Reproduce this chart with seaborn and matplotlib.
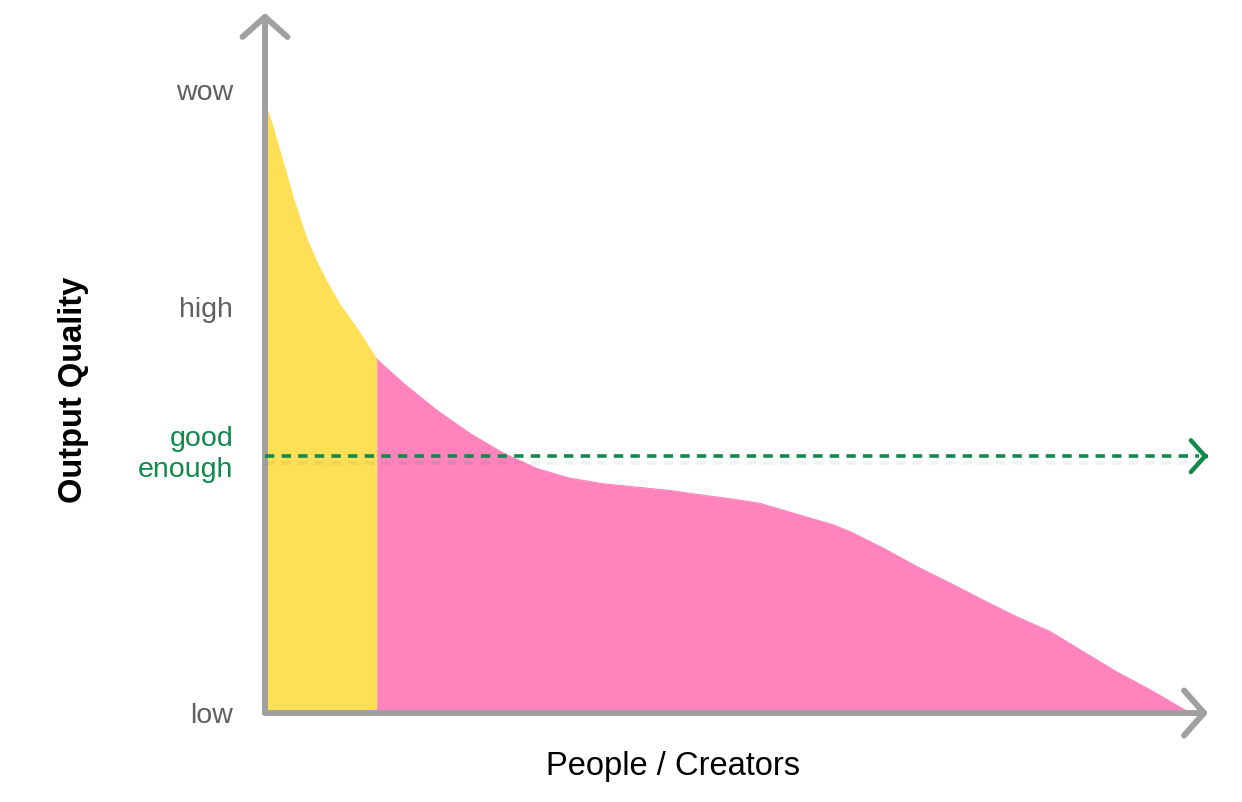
import numpy as np
import pandas as pd
import seaborn as sns
import matplotlib.pyplot as plt
from matplotlib import patheffects
from matplotlib.transforms import ScaledTranslation

# curve: people (0..100 along x) vs output quality (low=0 .. wow~100)
people = [0, 0.9, 1.62, 2.35, 3.06, 3.78, 4.51, 5.59, 6.67, 8.11, 9.91, 12.08,
          14.95, 18.56, 22.16, 25.76, 29.37, 32.97, 36.57, 43.78, 47.03, 50.59,
          53.5, 56.0, 58.92, 61.41, 63.24, 66.84, 70.45, 74.05, 77.65, 81.26,
          84.86, 88.46, 92.08, 95.68, 100]
quality = [99.5, 95.4, 91.6, 87.8, 84.0, 80.7, 77.4, 73.6, 70.4, 66.6, 62.8, 57.7,
           53.8, 49.4, 45.6, 42.4, 39.9, 38.3, 37.4, 36.3, 35.6, 34.9,
           34.2, 33.1, 31.8, 30.7, 29.6, 26.9, 23.9, 21.2, 18.4, 15.7,
           13.3, 10.0, 6.7, 3.8, 0]

split_x = 12.08         # end of the yellow (top) group
good_enough = 41.9      # dashed threshold
level_values = [0, good_enough, 66.2, 101.6]
level_labels = ["low", "good\nenough", "high", "wow"]

YELLOW = "#fedf55"
PINK = "#ff84bd"
GRAY = "#a0a0a0"
GREEN = "#0f8a4b"
LABEL_GRAY = "#606060"

sns.set_theme(style="white")
plt.rcParams['font.family'] = ['Liberation Sans', 'DejaVu Sans']

df = pd.DataFrame({"people": people, "quality": quality})

fig = plt.figure(figsize=(12.42, 8.02), dpi=100)
ax = fig.add_axes([265 / 1242, 89 / 802, 950 / 1242, 703 / 802])
ax.set_xlim(0, 950 / 9.25)
ax.set_ylim(0, 703 / 6.13)
for s in ax.spines.values():
    s.set_visible(False)

x = df["people"].to_numpy()
y = df["quality"].to_numpy()
ax.fill_between(x, y, where=x <= split_x, color=YELLOW, lw=0, zorder=1)
ax.fill_between(x, y, where=x >= split_x, color=PINK, lw=0, zorder=1)
sns.lineplot(data=df[df.people <= split_x], x="people", y="quality",
             color=YELLOW, lw=0.8, ax=ax, zorder=1)
sns.lineplot(data=df[df.people >= split_x], x="people", y="quality",
             color=PINK, lw=0.8, ax=ax, zorder=1)

# axes with open chevron heads
ax_tip_x = 101.95
ax_tip_y = 114.2
arrow_kw = dict(arrowstyle="->,head_length=1.2,head_width=1.35", lw=4.3, color=GRAY,
                shrinkA=0, shrinkB=0, capstyle="round", joinstyle="round")
ax.annotate("", xy=(0, ax_tip_y), xytext=(0, 0), arrowprops=arrow_kw,
            annotation_clip=False, zorder=3)
ax.annotate("", xy=(ax_tip_x, 0), xytext=(0, 0), arrowprops=arrow_kw,
            annotation_clip=False, zorder=3)

# "good enough" threshold
shadow = [patheffects.SimpleLineShadow(offset=(0, -5), shadow_color="k", alpha=0.06),
          patheffects.Normal()]
ax.plot([0, 101.0], [good_enough, good_enough], ls=(0, (2.6, 2.0)), lw=2.6,
        color=GREEN, dash_capstyle="butt", clip_on=False, zorder=4, path_effects=shadow)
ax.annotate("", xy=(ax_tip_x, good_enough), xytext=(ax_tip_x - 0.3, good_enough),
            arrowprops=dict(arrowstyle="->,head_length=0.85,head_width=0.95", lw=3.2,
                            color=GREEN, shrinkA=0, shrinkB=0, capstyle="round",
                            joinstyle="round"),
            annotation_clip=False, zorder=4)

ax.set_xticks([])
ax.set_yticks(level_values, level_labels)
ax.tick_params(axis="y", length=0, pad=23, labelsize=20.5, labelcolor=LABEL_GRAY)
for lab in ax.get_yticklabels():
    if lab.get_text().startswith("good"):
        lab.set_color(GREEN)
        lab.set_linespacing(1.25)
        lab.set_transform(lab.get_transform() + ScaledTranslation(0, 0.07, fig.dpi_scale_trans))

ax.set_xlabel("People / Creators", fontsize=23.5, color="black", va="center")
ax.xaxis.set_label_coords((673 - 265) / 950, -(767 - 713) / 703)
ax.set_ylabel("Output Quality", fontsize=23.5, fontweight="bold", color="black", va="center")
ax.yaxis.set_label_coords(-(265 - 73) / 950, (713 - 390) / 703)

fig.savefig("out.png", dpi=100)
